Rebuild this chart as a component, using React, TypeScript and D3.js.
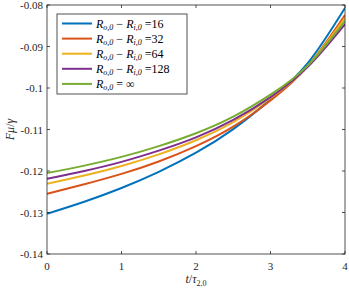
import { useEffect, useRef } from 'react';
import * as d3 from 'd3';

// time samples (t / tau_{2,0})
const tValues = [0, 0.5, 1, 1.5, 2, 2.5, 3, 3.5, 4];

// F mu / gamma for each case
const series16 = [-0.1303, -0.1274, -0.1241, -0.1202, -0.1156, -0.1099, -0.1028, -0.0940, -0.0807];
const series32 = [-0.1255, -0.1232, -0.1207, -0.1177, -0.1140, -0.1093, -0.1030, -0.0947, -0.0824];
const series64 = [-0.1231, -0.1211, -0.1188, -0.1160, -0.1126, -0.1082, -0.1024, -0.0947, -0.0831];
const series128 = [-0.1219, -0.1200, -0.1178, -0.1151, -0.1119, -0.1077, -0.1022, -0.0949, -0.0846];
const seriesInf = [-0.1205, -0.1187, -0.1166, -0.1140, -0.1109, -0.1069, -0.1016, -0.0946, -0.0839];

const legendValues = ['16', '32', '64', '128', '∞'];
const colors = ['#0072BD', '#D95319', '#EDB120', '#7E2F8E', '#77AC30'];

const xTicks = [0, 1, 2, 3, 4];
const yTicks = [-0.14, -0.13, -0.12, -0.11, -0.1, -0.09, -0.08];
const yTickLabels = ['-0.14', '-0.13', '-0.12', '-0.11', '-0.1', '-0.09', '-0.08'];

const App = () => {
  const svgRef = useRef(null);

  useEffect(() => {
    const width = 349;
    const height = 289;
    const margin = { top: 5, right: 4, bottom: 35, left: 47 };
    const font = 'Liberation Serif, DejaVu Serif, serif';
    const axisColor = '#262626';

    const svg = d3.select(svgRef.current)
      .attr('width', width)
      .attr('height', height)
      .attr('font-family', font)
      .style('background-color', '#ffffff');

    svg.selectAll('*').remove();

    const x = d3.scaleLinear().domain([0, 4]).range([margin.left, width - margin.right]);
    const y = d3.scaleLinear().domain([-0.14, -0.08]).range([height - margin.bottom, margin.top]);

    const x0 = x(0), x1 = x(4), y0 = y(-0.14), y1 = y(-0.08);
    const tickLen = 3;

    // curves
    const allSeries = [series16, series32, series64, series128, seriesInf];
    const line = d3.line<number>()
      .x((d, i) => x(tValues[i]))
      .y(d => y(d))
      .curve(d3.curveNatural);

    svg.append('defs').append('clipPath').attr('id', 'plot-clip')
      .append('rect').attr('x', x0).attr('y', y1).attr('width', x1 - x0).attr('height', y0 - y1);

    const plot = svg.append('g').attr('clip-path', 'url(#plot-clip)');
    allSeries.forEach((s, i) => {
      plot.append('path')
        .datum(s)
        .attr('d', line)
        .attr('fill', 'none')
        .attr('stroke', colors[i])
        .attr('stroke-width', 2);
    });

    // axes box
    svg.append('rect')
      .attr('x', x0).attr('y', y1)
      .attr('width', x1 - x0).attr('height', y0 - y1)
      .attr('fill', 'none')
      .attr('stroke', axisColor)
      .attr('stroke-width', 0.8);

    // x ticks (bottom and top, inward)
    xTicks.forEach(t => {
      svg.append('line').attr('x1', x(t)).attr('x2', x(t)).attr('y1', y0).attr('y2', y0 - tickLen)
        .attr('stroke', axisColor).attr('stroke-width', 0.8);
      svg.append('line').attr('x1', x(t)).attr('x2', x(t)).attr('y1', y1).attr('y2', y1 + tickLen)
        .attr('stroke', axisColor).attr('stroke-width', 0.8);
      svg.append('text')
        .attr('x', x(t)).attr('y', y0 + 16)
        .attr('text-anchor', 'middle')
        .attr('font-size', 11).attr('fill', axisColor)
        .text(t);
    });

    // y ticks (left and right, inward)
    yTicks.forEach((v, i) => {
      svg.append('line').attr('x1', x0).attr('x2', x0 + tickLen).attr('y1', y(v)).attr('y2', y(v))
        .attr('stroke', axisColor).attr('stroke-width', 0.8);
      svg.append('line').attr('x1', x1).attr('x2', x1 - tickLen).attr('y1', y(v)).attr('y2', y(v))
        .attr('stroke', axisColor).attr('stroke-width', 0.8);
      svg.append('text')
        .attr('x', x0 - 4).attr('y', y(v) + 4)
        .attr('text-anchor', 'end')
        .attr('font-size', 11).attr('fill', axisColor)
        .text(yTickLabels[i]);
    });

    // x label: t / tau_{2,0}
    const xl = svg.append('text')
      .attr('x', (x0 + x1) / 2).attr('y', height - 6)
      .attr('text-anchor', 'middle')
      .attr('font-size', 12).attr('fill', axisColor);
    xl.append('tspan').attr('font-style', 'italic').text('t');
    xl.append('tspan').text('/');
    xl.append('tspan').attr('font-style', 'italic').text('τ');
    xl.append('tspan').attr('dy', 3).attr('font-size', 8).text('2,0');

    // y label: F mu / gamma
    const yl = svg.append('text')
      .attr('transform', `translate(14,${(y0 + y1) / 2})rotate(-90)`)
      .attr('text-anchor', 'middle')
      .attr('font-size', 12).attr('fill', axisColor);
    yl.append('tspan').attr('font-style', 'italic').text('Fμ');
    yl.append('tspan').text('/');
    yl.append('tspan').attr('font-style', 'italic').text('γ');

    // legend
    const lg = svg.append('g');
    lg.append('rect')
      .attr('x', 57).attr('y', 14).attr('width', 130).attr('height', 80)
      .attr('fill', '#ffffff').attr('stroke', axisColor).attr('stroke-width', 0.8);

    legendValues.forEach((val, i) => {
      const ry = 23.5 + i * 15.1;
      lg.append('line').attr('x1', 62).attr('x2', 92).attr('y1', ry).attr('y2', ry)
        .attr('stroke', colors[i]).attr('stroke-width', 2);
      const tx = lg.append('text')
        .attr('x', 96).attr('y', ry + 4)
        .attr('font-size', 12).attr('fill', '#000');
      tx.append('tspan').attr('font-style', 'italic').text('R');
      tx.append('tspan').attr('dy', 2.5).attr('font-size', 8).attr('font-style', 'italic').text('o,0');
      if (i < 4) {
        tx.append('tspan').attr('dy', -2.5).text(' − ');
        tx.append('tspan').attr('font-style', 'italic').text('R');
        tx.append('tspan').attr('dy', 2.5).attr('font-size', 8).attr('font-style', 'italic').text('i,0');
        tx.append('tspan').attr('dy', -2.5).text(' =' + val);
      } else {
        tx.append('tspan').attr('dy', -2.5).text(' = ' + val);
      }
    });
  }, []);

  return <svg ref={svgRef} style={{ position: 'absolute', left: 0, top: 0, display: 'block' }}></svg>;
};

export default App;
